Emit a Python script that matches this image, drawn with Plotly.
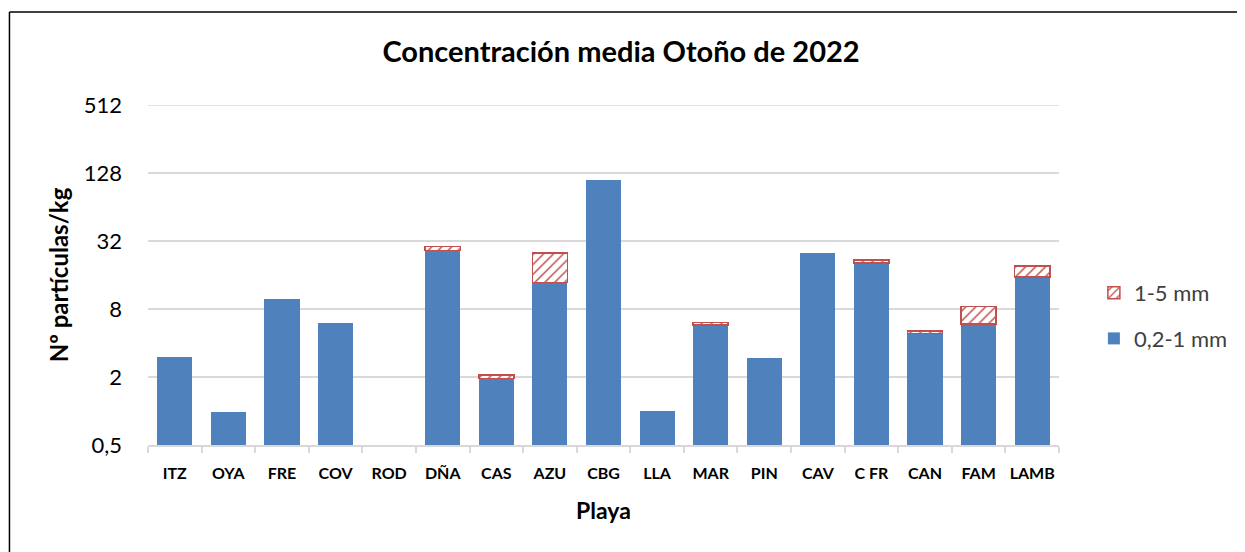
import plotly.graph_objects as go

categories = ["ITZ", "OYA", "FRE", "COV", "ROD", "DÑA", "CAS", "AZU", "CBG",
              "LLA", "MAR", "PIN", "CAV", "C FR", "CAN", "FAM", "LAMB"]
fine = [3.0, 0.98, 9.8, 6.0, None, 26.3, 1.94, 13.7, 110,
        1.0, 5.8, 2.95, 25.2, 20.5, 4.85, 5.9, 15.4]
coarse = [None, None, None, None, None, 2.4, 0.15, 11.4, None,
          None, 0.28, None, None, 1.2, 0.27, 2.5, 3.8]
y_ticks = [0.5, 2, 8, 32, 128, 512]
y_ticktext = ["0,5", "2", "8", "32", "128", "512"]

FONT = "Lato"
BLUE = "#4F81BD"
RED = "#C0504D"
GRID = "#D9D9D9"
OFF = 8  # page body margin

fig = go.Figure()
fig.add_trace(go.Bar(
    x=categories, y=fine, name="0,2-1 mm", legendgroup="a", legendrank=2,
    marker=dict(color=BLUE, line=dict(width=0)),
))
fig.add_trace(go.Bar(
    x=categories, y=coarse, name="1-5 mm", legendgroup="b", legendrank=1,
    marker=dict(color="white", line=dict(color=RED, width=1.5),
                pattern=dict(shape="/", fgcolor=RED, bgcolor="white",
                             size=7, solidity=0.22, fgopacity=1)),
))

W, H = 1245 - OFF, 552 - OFF
L, R, T, B = 148 - OFF, 1062 - OFF, 105 - OFF, 445 - OFF
pw, ph = R - L, B - T


def px(x):
    return (x - OFF - L) / pw


def py(y):
    return (B - (y - OFF)) / ph


fig.update_layout(
    width=W, height=H,
    barmode="stack", bargap=0.345,
    paper_bgcolor="white", plot_bgcolor="white",
    separators=", ",
    margin=dict(l=L, r=W - R, t=T, b=H - B, pad=0),
    font=dict(family=FONT, color="#000000"),
    title=dict(text="<b>Concentración media Otoño de 2022</b>",
               x=(621 - OFF) / W, xanchor="center",
               y=1 - (52 - OFF) / H, yanchor="middle",
               font=dict(size=29, family=FONT, color="#000000")),
    showlegend=True,
    legend=dict(traceorder="grouped", tracegroupgap=14,
                x=px(1097), xanchor="left", y=py(272), yanchor="top",
                font=dict(size=22, family=FONT, color="#404040"),
                itemwidth=30, bgcolor="rgba(0,0,0,0)"),
    xaxis=dict(
        type="category", showgrid=False,
        showline=True, linecolor=GRID, linewidth=1.5,
        ticks="outside", tickson="boundaries", ticklen=6, tickcolor=GRID,
        tickwidth=1.5, ticklabelstandoff=13, tickangle=0,
        tickfont=dict(size=16, family=FONT, color="#000000", weight="bold"),
        title=dict(text="<b>Playa</b>", font=dict(size=23, family=FONT),
                   standoff=22),
    ),
    yaxis=dict(
        type="log", range=[-0.30103, 2.70927],
        tickvals=y_ticks, ticktext=y_ticktext,
        showgrid=True, gridcolor=GRID, gridwidth=1.5,
        showline=False, zeroline=False, ticks="",
        ticklabelstandoff=25,
        tickfont=dict(size=22, family=FONT, color="#000000"),
        title=dict(text="<b>Nº partículas/kg</b>", font=dict(size=24, family=FONT),
                   standoff=8),
    ),
    shapes=[
        dict(type="line", xref="paper", yref="y", layer="below",
             x0=0, x1=1, y0=y_ticks[-1], y1=y_ticks[-1],
             line=dict(color=GRID, width=1.5)),
        dict(type="line", xref="paper", yref="paper",
             x0=px(9), x1=px(9), y0=py(12), y1=py(570),
             line=dict(color="black", width=1.5)),
        dict(type="line", xref="paper", yref="paper",
             x0=px(9), x1=px(1260), y0=py(12), y1=py(12),
             line=dict(color="black", width=1.5)),
    ],
)

fig.write_html("out.html")
